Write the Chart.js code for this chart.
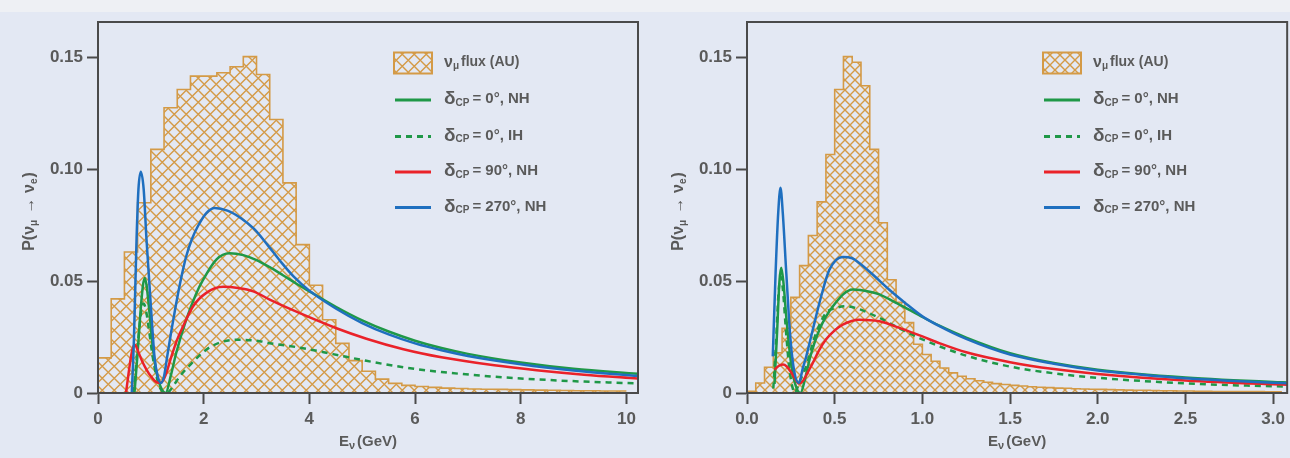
<!DOCTYPE html>
<html lang="en">
<head>
<meta charset="UTF-8">
<title>Appearance probability vs neutrino energy</title>
<script src="https://cdn.jsdelivr.net/npm/chart.js@4.4.0/dist/chart.umd.min.js"></script>
<style>
  body { margin: 0; background: #e3e8f3; width: 1290px; height: 458px; overflow: hidden; }
  #strip { position: absolute; left: 0; top: 0; width: 1290px; height: 12px; background: #eef0f4; }
  .panel { position: absolute; top: 0; width: 645px; height: 458px; }
</style>
</head>
<body>
<div id="strip"></div>
<div class="panel" style="left:0"><canvas id="leftChart"></canvas></div>
<div class="panel" style="left:645px"><canvas id="rightChart"></canvas></div>

<script>
// ---- nu_mu flux histograms (arbitrary units) ----
const FLUX_L_BIN = 0.25;   // GeV, long baseline
const FLUX_L = [0.0157, 0.0421, 0.0631, 0.0851, 0.109, 0.1276, 0.1358, 0.1418, 0.1418, 0.1433,
                0.1460, 0.1505, 0.1425, 0.1224, 0.0940, 0.0664, 0.0482, 0.0328, 0.0222, 0.0145,
                0.0097, 0.0062, 0.0043, 0.0034, 0.0029, 0.0025, 0.0022, 0.0020, 0.0018, 0.0017,
                0.0016, 0.0015, 0.0014, 0.0013, 0.0012, 0.0011, 0.0010, 0.0010, 0.0009, 0.0009];

const FLUX_R_BIN = 0.05;   // GeV, short baseline
const FLUX_R = [0.0008, 0.0045, 0.0115, 0.0180, 0.0290, 0.0428, 0.0570, 0.0705, 0.0855, 0.1067,
                0.1358, 0.1505, 0.1480, 0.1375, 0.1090, 0.0762, 0.0507, 0.0406, 0.0315, 0.0218,
                0.0172, 0.0142, 0.0112, 0.0090, 0.0075, 0.0064, 0.0055, 0.0048, 0.0042, 0.0038,
                0.0034, 0.0031, 0.0028, 0.0026, 0.0024, 0.0022, 0.0021, 0.0019, 0.0018, 0.0017,
                0.0016, 0.0015, 0.0014, 0.0013, 0.0012, 0.0012, 0.0011, 0.0010, 0.0010, 0.0009,
                0.0009, 0.0008, 0.0008, 0.0007, 0.0007, 0.0007, 0.0006, 0.0006, 0.0006, 0.0005,
                0.0005];

// ---- P(nu_mu -> nu_e), long baseline ----
const L_E_0NH = [0.69, 0.75, 0.80, 0.85, 0.885, 0.92, 0.97, 1.03, 1.10, 1.18, 1.28, 1.38, 1.48, 1.67, 1.85,
                 1.99, 2.24, 2.49, 2.75, 3.0, 3.25, 3.5, 3.75, 4.0, 4.5, 5.0, 5.5, 6.0, 6.5, 7.0, 8.0, 9.0, 10.22];
const L_P_0NH = [0.0, 0.018, 0.035, 0.048, 0.0515, 0.048, 0.037, 0.022, 0.010, 0.003, 0.0, 0.008, 0.0179, 0.0328, 0.044,
                 0.0507, 0.0597, 0.0625, 0.0617, 0.0595, 0.0563, 0.0527, 0.0490, 0.0455, 0.0386, 0.0325, 0.0275, 0.0234,
                 0.0201, 0.0175, 0.0136, 0.0108, 0.0086];

const L_E_0IH = [0.67, 0.72, 0.77, 0.82, 0.86, 0.90, 0.96, 1.03, 1.10, 1.18, 1.27, 1.35, 1.42, 1.55, 1.74,
                 2.05, 2.30, 2.60, 3.06, 3.25, 3.82, 4.45, 5.08, 5.78, 6.5, 7.5, 8.3, 9.2, 10.22];
const L_P_0IH = [0.0, 0.012, 0.026, 0.037, 0.040, 0.038, 0.029, 0.017, 0.008, 0.002, 0.0, 0.0008, 0.003, 0.0075, 0.0125,
                 0.0194, 0.0225, 0.0238, 0.0232, 0.0223, 0.0203, 0.0174, 0.0144, 0.0115, 0.0094, 0.0073, 0.0061, 0.0051, 0.0043];

const L_E_90NH = [0.53, 0.58, 0.63, 0.67, 0.695, 0.72, 0.77, 0.84, 0.92, 1.0, 1.07, 1.14, 1.20, 1.28, 1.39, 1.50,
                  1.61, 1.80, 2.05, 2.37, 2.65, 2.94, 3.25, 3.82, 4.5, 5.08, 5.78, 6.5, 7.5, 8.3, 9.2, 10.22];
const L_P_90NH = [0.0, 0.009, 0.017, 0.0208, 0.0216, 0.021, 0.018, 0.014, 0.0104, 0.0075, 0.0055, 0.0046, 0.0047, 0.008, 0.0164, 0.024,
                  0.0298, 0.0388, 0.0448, 0.0475, 0.0470, 0.0455, 0.0418, 0.0357, 0.0291, 0.0243, 0.0196, 0.0160, 0.0124, 0.0102, 0.0082, 0.0065];

const L_E_270NH = [0.64, 0.68, 0.73, 0.765, 0.81, 0.865, 0.917, 1.0, 1.07, 1.13, 1.19, 1.25, 1.31, 1.39, 1.47, 1.57, 1.67, 1.78,
                   1.89, 2.05, 2.21, 2.45, 2.7, 2.95, 3.2, 3.45, 3.7, 4.0, 4.5, 5.0, 5.5, 6.0, 6.5, 7.0, 8.0, 9.0, 10.22];
const L_P_270NH = [0.0, 0.024, 0.069, 0.091, 0.099, 0.091, 0.069, 0.039, 0.016, 0.0075, 0.0045, 0.0075, 0.0164, 0.028, 0.0388, 0.051, 0.0612, 0.069,
                   0.0746, 0.0805, 0.0828, 0.0816, 0.0783, 0.0735, 0.0665, 0.0590, 0.0522, 0.0458, 0.0378, 0.0313, 0.0262, 0.0222,
                   0.0191, 0.0166, 0.0129, 0.0101, 0.0076];

// ---- P(nu_mu -> nu_e), short baseline ----
const R_E_0NH = [0.157, 0.172, 0.185, 0.195, 0.207, 0.225, 0.25, 0.275, 0.305, 0.33, 0.36, 0.413, 0.49, 0.603, 0.70,
                 0.755, 0.85, 0.90, 1.0, 1.1, 1.25, 1.5, 1.75, 2.0, 2.5, 3.0, 3.08];
const R_P_0NH = [0.004, 0.028, 0.050, 0.056, 0.050, 0.033, 0.014, 0.004, 0.0, 0.006, 0.016, 0.0283, 0.0388, 0.0463, 0.0453,
                 0.0441, 0.0403, 0.0383, 0.0340, 0.0300, 0.0248, 0.0178, 0.0134, 0.0104, 0.0069, 0.0049, 0.0047];

const R_E_0IH = [0.15, 0.165, 0.18, 0.192, 0.205, 0.222, 0.24, 0.258, 0.272, 0.29, 0.315, 0.338, 0.37, 0.395, 0.45,
                 0.505, 0.565, 0.64, 0.755, 0.88, 1.0, 1.1, 1.25, 1.5, 1.75, 2.0, 2.5, 3.0, 3.08];
const R_P_0IH = [0.002, 0.022, 0.045, 0.052, 0.046, 0.028, 0.012, 0.003, 0.0, 0.003, 0.008, 0.012, 0.021, 0.027, 0.0358,
                 0.0380, 0.0388, 0.0375, 0.0336, 0.0285, 0.0240, 0.0208, 0.0167, 0.0118, 0.0088, 0.0068, 0.0043, 0.0030, 0.0029];

const R_E_90NH = [0.157, 0.175, 0.19, 0.205, 0.225, 0.25, 0.275, 0.296, 0.32, 0.345, 0.375, 0.41, 0.45, 0.50, 0.546,
                  0.64, 0.755, 0.88, 1.0, 1.1, 1.25, 1.5, 1.75, 2.0, 2.5, 3.0, 3.08];
const R_P_90NH = [0.0104, 0.0118, 0.0125, 0.0127, 0.012, 0.0095, 0.0062, 0.0042, 0.0055, 0.009, 0.0134, 0.019, 0.0239, 0.028, 0.0306,
                  0.0328, 0.0321, 0.0288, 0.0253, 0.0222, 0.0182, 0.0138, 0.0107, 0.0085, 0.0056, 0.0039, 0.0037];

const R_E_270NH = [0.147, 0.163, 0.178, 0.191, 0.204, 0.224, 0.248, 0.271, 0.296, 0.318, 0.338, 0.375, 0.423, 0.47, 0.546,
                   0.60, 0.64, 0.72, 0.81, 0.90, 1.0, 1.1, 1.25, 1.5, 1.75, 2.0, 2.25, 2.5, 2.75, 3.0, 3.08];
const R_P_270NH = [0.0164, 0.0537, 0.0806, 0.0918, 0.0806, 0.0537, 0.0239, 0.009, 0.0045, 0.011, 0.0164, 0.0283, 0.0433, 0.0552, 0.0609,
                   0.0603, 0.0582, 0.0528, 0.0463, 0.0404, 0.0343, 0.0298, 0.0242, 0.0172, 0.0131, 0.0101, 0.0082, 0.0066, 0.0055,
                   0.0046, 0.0044];

// ---- axis ranges / ticks ----
const Y_MAX = 0.166;
const Y_STEP = 0.05;
const L_X_MAX = 10.22, L_X_STEP = 2;
const R_X_MAX = 3.08,  R_X_STEP = 0.5;

// ---- styling ----
const AXIS_COLOR = '#4a4a4a';
const TEXT_COLOR = '#5a5a5a';
const FONT = 'Liberation Sans, Arial, sans-serif';
const ORANGE = '#d49a46';
const GREEN = '#1f9847';
const RED = '#ea2229';
const BLUE = '#1f6fbf';

// crosshatch fill for the flux histogram
function hatchPattern(size) {
    const c = document.createElement('canvas');
    c.width = size; c.height = size;
    const g = c.getContext('2d');
    g.strokeStyle = ORANGE;
    g.lineWidth = 1.4;
    for (let k = -1; k <= 1; k++) {
        g.beginPath();
        g.moveTo(k * size, 0); g.lineTo(k * size + size, size);
        g.moveTo(k * size + size, 0); g.lineTo(k * size, size);
        g.stroke();
    }
    return g.createPattern(c, 'repeat');
}

// stepped outline points: one point per bin low edge + closing edge
function histPoints(binWidth, values) {
    const pts = [{x: 0, y: 0}];
    values.forEach((v, i) => pts.push({x: i * binWidth, y: v}));
    pts.push({x: values.length * binWidth, y: values[values.length - 1]});
    return pts;
}

function curve(xs, ys) {
    return xs.map((x, i) => ({x: x, y: ys[i]}));
}

// draw a run of text pieces, some as subscripts
function drawRich(ctx, parts, x, y) {
    parts.forEach(p => {
        ctx.font = (p.weight || 'bold') + ' ' + (p.size || 15) + 'px ' + FONT;
        ctx.fillText(p.t, x, y + (p.dy || 0));
        x += ctx.measureText(p.t).width + (p.gap || 0);
    });
    return x;
}
function richWidth(ctx, parts) {
    let w = 0;
    parts.forEach(p => {
        ctx.font = (p.weight || 'bold') + ' ' + (p.size || 15) + 'px ' + FONT;
        w += ctx.measureText(p.t).width + (p.gap || 0);
    });
    return w;
}

const NU = {t: 'ν', size: 16};
const deltaCP = (rest) => [{t: 'δ', size: 19}, {t: 'CP', size: 10, dy: 4, gap: 3}, {t: rest, size: 15}];
const LEGEND_ROWS = [
    {kind: 'hist', text: [NU, {t: 'μ', size: 10, dy: 4, gap: 2}, {t: 'flux (AU)', size: 14}]},
    {kind: 'line', color: GREEN, dash: [], text: deltaCP('= 0°, NH')},
    {kind: 'line', color: GREEN, dash: [6, 5], text: deltaCP('= 0°, IH')},
    {kind: 'line', color: RED, dash: [], text: deltaCP('= 90°, NH')},
    {kind: 'line', color: BLUE, dash: [], text: deltaCP('= 270°, NH')}
];
const LEGEND_DY = [40.5, 77, 113.5, 149, 184.5];

// frame, legend and axis titles
const decorations = {
    id: 'decorations',
    afterDatasetsDraw(chart, args, opts) {
        const ctx = chart.ctx;
        const a = chart.chartArea;
        ctx.save();
        ctx.strokeStyle = AXIS_COLOR;
        ctx.lineWidth = 2;
        ctx.strokeRect(a.left, a.top, a.right - a.left, a.bottom - a.top);

        // legend
        const bx = a.left + 296;
        ctx.textBaseline = 'middle';
        ctx.fillStyle = TEXT_COLOR;
        LEGEND_ROWS.forEach((row, i) => {
            const cy = a.top + LEGEND_DY[i];
            if (row.kind === 'hist') {
                ctx.fillStyle = opts.pattern;
                ctx.fillRect(bx, cy - 10, 38, 21);
                ctx.strokeStyle = ORANGE;
                ctx.lineWidth = 2;
                ctx.strokeRect(bx, cy - 10, 38, 21);
            } else {
                ctx.strokeStyle = row.color;
                ctx.lineWidth = 3;
                ctx.setLineDash(row.dash);
                ctx.beginPath();
                ctx.moveTo(bx + 1, cy + 1);
                ctx.lineTo(bx + 37, cy + 1);
                ctx.stroke();
                ctx.setLineDash([]);
            }
            ctx.fillStyle = TEXT_COLOR;
            drawRich(ctx, row.text, bx + 50, cy);
        });

        // x title: E_nu (GeV)
        const xt = [{t: 'E', size: 15}, {t: 'ν', size: 11, dy: 4, gap: 2}, {t: '(GeV)', size: 15}];
        const cx = (a.left + a.right) / 2;
        drawRich(ctx, xt, cx - richWidth(ctx, xt) / 2, 442);

        // y title: P(nu_mu -> nu_e), rotated
        const yt = [{t: 'P(', size: 16}, NU, {t: 'μ', size: 10, dy: 4, gap: 2}, {t: ' → ', size: 16},
                    NU, {t: 'e', size: 10, dy: 4, gap: 1}, {t: ')', size: 16}];
        ctx.translate(a.left - 68, (a.top + a.bottom) / 2 + 4);
        ctx.rotate(-Math.PI / 2);
        drawRich(ctx, yt, -richWidth(ctx, yt) / 2, 0);
        ctx.restore();
    }
};

function makePanel(canvasId, opt) {
    const pattern = hatchPattern(opt.hatch);
    const tickFont = {family: FONT, size: 17, weight: 'bold'};
    const lineDs = (xs, ys, color, dash) => ({
        type: 'line', data: curve(xs, ys), borderColor: color, borderWidth: 2.5, borderDash: dash,
        pointRadius: 0, fill: false, cubicInterpolationMode: 'monotone', order: 1
    });
    return new Chart(document.getElementById(canvasId), {
        type: 'line',
        data: {
            datasets: [
                lineDs(opt.e270, opt.p270, BLUE, []),
                lineDs(opt.e90, opt.p90, RED, []),
                lineDs(opt.e0ih, opt.p0ih, GREEN, [6, 5]),
                lineDs(opt.e0nh, opt.p0nh, GREEN, []),
                {
                    type: 'line', data: histPoints(opt.bin, opt.flux), stepped: true,
                    borderColor: ORANGE, borderWidth: 1.6, pointRadius: 0,
                    fill: 'origin', backgroundColor: pattern, order: 10
                }
            ]
        },
        options: {
            responsive: true,
            maintainAspectRatio: false,
            animation: false,
            events: [],
            layout: {padding: {left: 0, top: 22, right: opt.padRight, bottom: 0}},
            plugins: {legend: {display: false}, tooltip: {enabled: false}, decorations: {pattern: pattern}},
            scales: {
                x: {
                    type: 'linear', min: 0, max: opt.xMax,
                    border: {display: true, color: AXIS_COLOR, width: 2},
                    grid: {drawOnChartArea: false, drawTicks: true, tickLength: 11, tickColor: AXIS_COLOR, tickWidth: 2},
                    ticks: {stepSize: opt.xStep, includeBounds: false, maxRotation: 0, autoSkip: false,
                            color: TEXT_COLOR, font: tickFont, padding: 5,
                            callback: v => v.toFixed(opt.xDigits)},
                    afterFit: s => { s.height = 65; }
                },
                y: {
                    type: 'linear', min: 0, max: Y_MAX,
                    border: {display: true, color: AXIS_COLOR, width: 2},
                    grid: {drawOnChartArea: false, drawTicks: true, tickLength: 11, tickColor: AXIS_COLOR, tickWidth: 2},
                    ticks: {stepSize: Y_STEP, includeBounds: false, color: TEXT_COLOR, font: tickFont, padding: 4,
                            callback: v => v === 0 ? '0' : v.toFixed(2)},
                    afterFit: s => { s.width = opt.yWidth; }
                }
            }
        },
        plugins: [decorations]
    });
}

makePanel('leftChart', {
    bin: FLUX_L_BIN, flux: FLUX_L, hatch: 12.5,
    e0nh: L_E_0NH, p0nh: L_P_0NH, e0ih: L_E_0IH, p0ih: L_P_0IH,
    e90: L_E_90NH, p90: L_P_90NH, e270: L_E_270NH, p270: L_P_270NH,
    xMax: L_X_MAX, xStep: L_X_STEP, xDigits: 0, yWidth: 98, padRight: 7
});
makePanel('rightChart', {
    bin: FLUX_R_BIN, flux: FLUX_R, hatch: 10,
    e0nh: R_E_0NH, p0nh: R_P_0NH, e0ih: R_E_0IH, p0ih: R_P_0IH,
    e90: R_E_90NH, p90: R_P_90NH, e270: R_E_270NH, p270: R_P_270NH,
    xMax: R_X_MAX, xStep: R_X_STEP, xDigits: 1, yWidth: 102, padRight: 2
});
</script>
</body>
</html>
